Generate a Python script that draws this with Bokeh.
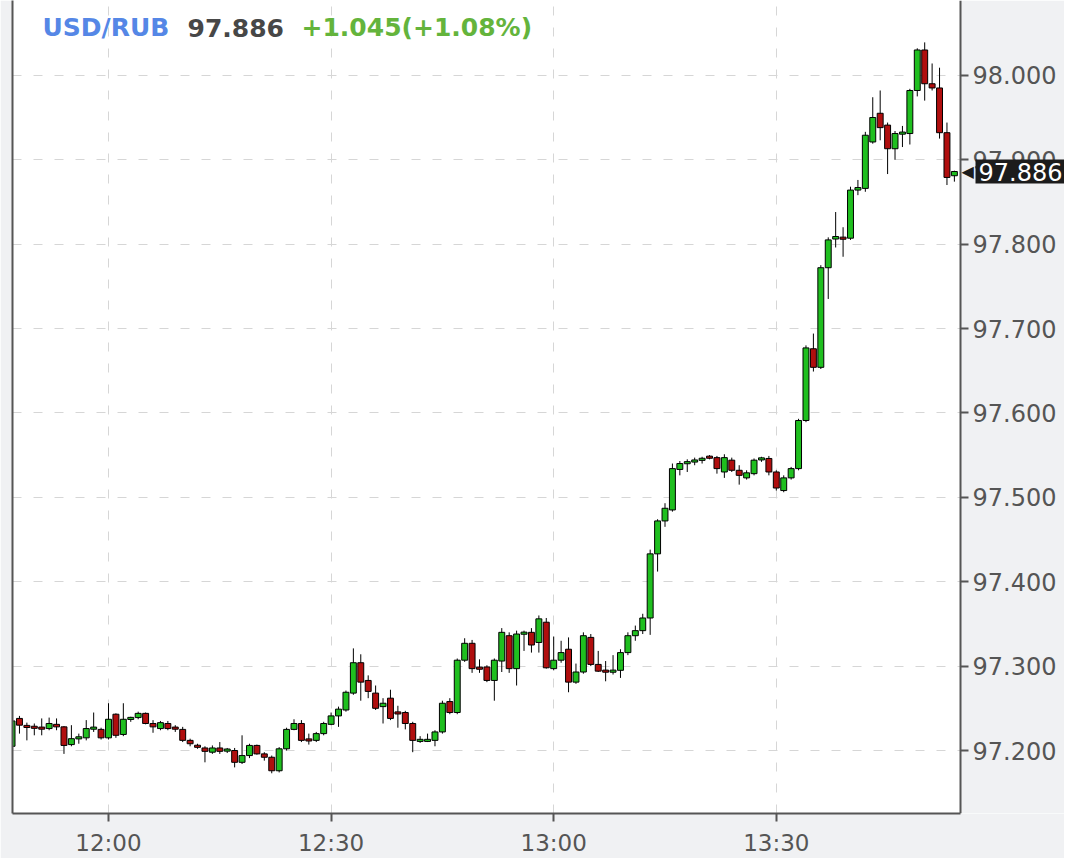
from bokeh.plotting import figure
from bokeh.models import (FixedTicker, Range1d, Label, ColumnDataSource, LinearAxis,
                          Grid, BoxAnnotation)
from bokeh.embed import file_html
from bokeh.resources import INLINE

# ---------------- data (minutes relative to 12:00, 1-minute candles) ----------------
minutes = list(range(-13, 115))
opens = [97.205, 97.238, 97.229, 97.228, 97.227, 97.226, 97.231, 97.228, 97.207, 97.214,
         97.215, 97.226, 97.225, 97.215, 97.243, 97.219, 97.237, 97.239, 97.244, 97.232,
         97.226, 97.232, 97.227, 97.225, 97.212, 97.206, 97.203, 97.198, 97.203, 97.200,
         97.200, 97.186, 97.194, 97.206, 97.196, 97.192, 97.176, 97.202, 97.225, 97.232,
         97.213, 97.212, 97.220, 97.231, 97.241, 97.248, 97.268, 97.304, 97.283, 97.268,
         97.252, 97.262, 97.245, 97.245, 97.232, 97.212, 97.212, 97.212, 97.222, 97.258,
         97.245, 97.307, 97.327, 97.298, 97.299, 97.283, 97.306, 97.336, 97.297, 97.338,
         97.340, 97.328, 97.352, 97.297, 97.307, 97.320, 97.281, 97.293, 97.334, 97.302,
         97.295, 97.293, 97.295, 97.316, 97.336, 97.342, 97.357, 97.433, 97.472, 97.485,
         97.533, 97.540, 97.542, 97.544, 97.548, 97.547, 97.530, 97.544, 97.532, 97.523,
         97.528, 97.545, 97.546, 97.530, 97.508, 97.523, 97.534, 97.591, 97.676, 97.654,
         97.772, 97.806, 97.808, 97.807, 97.864, 97.866, 97.921, 97.955, 97.941, 97.913,
         97.931, 97.931, 97.982, 98.030, 97.990, 97.985, 97.932, 97.881]
highs = [97.238, 97.241, 97.233, 97.232, 97.238, 97.239, 97.238, 97.229, 97.230, 97.220,
         97.236, 97.245, 97.227, 97.256, 97.244, 97.256, 97.240, 97.246, 97.245, 97.236,
         97.235, 97.235, 97.230, 97.228, 97.214, 97.208, 97.205, 97.206, 97.210, 97.203,
         97.203, 97.218, 97.208, 97.207, 97.198, 97.194, 97.204, 97.227, 97.237, 97.236,
         97.220, 97.222, 97.234, 97.245, 97.252, 97.271, 97.321, 97.314, 97.289, 97.277,
         97.262, 97.272, 97.253, 97.247, 97.234, 97.217, 97.220, 97.224, 97.259, 97.262,
         97.309, 97.333, 97.331, 97.308, 97.301, 97.309, 97.345, 97.340, 97.342, 97.342,
         97.345, 97.360, 97.357, 97.335, 97.330, 97.334, 97.303, 97.340, 97.338, 97.318,
         97.306, 97.313, 97.320, 97.340, 97.348, 97.362, 97.438, 97.474, 97.493, 97.540,
         97.543, 97.545, 97.547, 97.548, 97.550, 97.549, 97.551, 97.547, 97.538, 97.532,
         97.546, 97.548, 97.549, 97.532, 97.526, 97.536, 97.593, 97.680, 97.694, 97.775,
         97.808, 97.838, 97.820, 97.868, 97.876, 97.933, 97.974, 97.982, 97.944, 97.934,
         97.940, 97.984, 98.032, 98.039, 98.014, 98.009, 97.944, 97.887]
lows = [97.200, 97.220, 97.212, 97.218, 97.218, 97.224, 97.224, 97.196, 97.205, 97.208,
        97.212, 97.222, 97.213, 97.213, 97.215, 97.217, 97.234, 97.237, 97.231, 97.221,
        97.224, 97.224, 97.222, 97.210, 97.205, 97.202, 97.186, 97.196, 97.196, 97.197,
        97.180, 97.184, 97.191, 97.195, 97.188, 97.173, 97.174, 97.200, 97.224, 97.210,
        97.207, 97.210, 97.218, 97.230, 97.228, 97.246, 97.266, 97.259, 97.262, 97.248,
        97.232, 97.236, 97.227, 97.225, 97.198, 97.209, 97.210, 97.205, 97.220, 97.243,
        97.243, 97.305, 97.292, 97.292, 97.281, 97.259, 97.293, 97.292, 97.277, 97.318,
        97.316, 97.316, 97.297, 97.295, 97.304, 97.269, 97.279, 97.291, 97.300, 97.293,
        97.282, 97.290, 97.286, 97.313, 97.330, 97.338, 97.337, 97.412, 97.465, 97.483,
        97.526, 97.530, 97.538, 97.540, 97.545, 97.528, 97.523, 97.530, 97.515, 97.521,
        97.526, 97.542, 97.526, 97.508, 97.506, 97.521, 97.532, 97.589, 97.649, 97.652,
        97.735, 97.796, 97.785, 97.805, 97.858, 97.862, 97.919, 97.923, 97.883, 97.900,
        97.915, 97.918, 97.975, 97.970, 97.982, 97.925, 97.870, 97.874]
closes = [97.235, 97.230, 97.228, 97.227, 97.226, 97.232, 97.228, 97.206, 97.214, 97.216,
          97.226, 97.227, 97.215, 97.237, 97.218, 97.237, 97.239, 97.244, 97.232, 97.228,
          97.233, 97.226, 97.226, 97.212, 97.208, 97.204, 97.199, 97.203, 97.199, 97.201,
          97.186, 97.194, 97.206, 97.196, 97.192, 97.176, 97.202, 97.225, 97.232, 97.212,
          97.212, 97.220, 97.232, 97.241, 97.249, 97.269, 97.304, 97.281, 97.270, 97.250,
          97.256, 97.238, 97.244, 97.232, 97.212, 97.212, 97.212, 97.222, 97.256, 97.245,
          97.307, 97.327, 97.297, 97.297, 97.283, 97.307, 97.340, 97.297, 97.338, 97.340,
          97.325, 97.356, 97.298, 97.307, 97.316, 97.281, 97.293, 97.336, 97.302, 97.294,
          97.293, 97.295, 97.316, 97.336, 97.342, 97.357, 97.433, 97.472, 97.487, 97.534,
          97.540, 97.542, 97.544, 97.546, 97.547, 97.534, 97.547, 97.532, 97.526, 97.529,
          97.544, 97.546, 97.530, 97.511, 97.523, 97.534, 97.591, 97.677, 97.654, 97.772,
          97.805, 97.809, 97.806, 97.864, 97.867, 97.929, 97.950, 97.938, 97.913, 97.931,
          97.932, 97.982, 98.030, 97.990, 97.985, 97.932, 97.879, 97.886]

x_ticks = [0, 30, 60, 90]
x_tick_labels = ["12:00", "12:30", "13:00", "13:30"]
y_ticks = [97.2, 97.3, 97.4, 97.5, 97.6, 97.7, 97.8, 97.9, 98.0]
y_tick_labels = ["97.200", "97.300", "97.400", "97.500", "97.600", "97.700", "97.800", "97.900", "98.000"]

symbol = "USD/RUB"
last_price = "97.886"
change_text = "+1.045(+1.08%)"
last_value = 97.886

# ---------------- layout helpers (pixel geometry of the page) ----------------
PX_PER_MIN = 7.42
X0_PX = 108.0      # page x of 12:00
FRAME_L, FRAME_R, PLOT_R, FRAME_T, FRAME_B = 12, 1064, 960, 0, 813


def px_to_min(px):
    return (px - X0_PX) / PX_PER_MIN


def py_to_price(py):
    return 97.2 + (750.0 - py) / 844.0


GREEN = "#1fbf1f"
RED = "#b00e0e"
AXIS = "#555555"
BG = "#f0f1f3"
FONT = "DejaVu Sans"
GRID = "#d6d6d6"

tops, bottoms, colors = [], [], []
for o, c in zip(opens, closes):
    t, b = max(o, c), min(o, c)
    if t - b < 0.0025:
        mid = (t + b) / 2
        t, b = mid + 0.00125, mid - 0.00125
    tops.append(t)
    bottoms.append(b)
    colors.append(GREEN if c >= o else RED)

src = ColumnDataSource(dict(t=minutes, o=opens, h=highs, l=lows, c=closes,
                            top=tops, bottom=bottoms, color=colors))

p = figure(frame_width=FRAME_R - FRAME_L, frame_height=FRAME_B - FRAME_T,
           x_range=Range1d(px_to_min(FRAME_L), px_to_min(FRAME_R)),
           y_range=Range1d(py_to_price(FRAME_B), py_to_price(FRAME_T)),
           output_backend="svg", toolbar_location=None,
           y_axis_location=None,
           min_border_left=FRAME_L, min_border_right=0, min_border_top=0, min_border_bottom=38,
           background_fill_color="white", border_fill_color=BG,
           outline_line_color=None)

# grey strip to the right of the price axis (drawn over the grid, under the axis)
p.add_layout(BoxAnnotation(left=px_to_min(PLOT_R), fill_color=BG, fill_alpha=1.0,
                           line_color=None, level="glyph"))

# grids
ygrids = list(p.ygrid)
if not ygrids:
    g = Grid(dimension=1)
    p.add_layout(g)
    ygrids = [g]
for g in ygrids:
    g.ticker = FixedTicker(ticks=y_ticks)
for g in list(p.xgrid):
    g.ticker = FixedTicker(ticks=x_ticks)
for g in list(p.xgrid) + ygrids:
    g.grid_line_color = GRID
    g.grid_line_dash = "9 12"
    g.grid_line_width = 1

# bottom axis
xax = p.xaxis[0]
xax.ticker = FixedTicker(ticks=x_ticks)
xax.major_label_overrides = dict(zip(x_ticks, x_tick_labels))
xax.bounds = (px_to_min(FRAME_L), px_to_min(PLOT_R))
xax.major_label_standoff = 8
xax.major_label_text_font_size = "23px"

# right price axis, fixed at the chart's right edge
yax = LinearAxis(ticker=FixedTicker(ticks=y_ticks), fixed_location=px_to_min(PLOT_R))
yax.major_label_overrides = dict(zip(y_ticks, y_tick_labels))
yax.major_label_standoff = 4
yax.major_label_text_font_size = "24px"
p.add_layout(yax, "right")

for ax in (xax, yax):
    ax.axis_line_color = AXIS
    ax.axis_line_width = 2
    ax.major_tick_line_color = AXIS
    ax.major_tick_line_width = 2
    ax.major_tick_in = 0
    ax.major_tick_out = 8
    ax.minor_tick_line_color = None
    ax.major_label_text_font = FONT
    ax.major_label_text_color = AXIS

# left border line as an empty axis
left = LinearAxis(ticker=FixedTicker(ticks=[]), axis_line_color=AXIS, axis_line_width=2,
                  major_tick_line_color=None, minor_tick_line_color=None,
                  major_label_text_font_size="0px", major_label_standoff=0,
                  major_tick_out=0, major_tick_in=0)
p.add_layout(left, "left")

# candles
p.segment(x0="t", y0="h", x1="t", y1="l", source=src, line_color="black", line_width=1)
p.vbar(x="t", width=0.8, top="top", bottom="bottom", source=src,
       fill_color="color", line_color="black", line_width=1)

# title pieces
title_y = py_to_price(27)
for txt, px, col in ((symbol, 42, "#5587e6"), (last_price, 187, "#474747"), (change_text, 301, "#64b43c")):
    p.add_layout(Label(x=px_to_min(px), y=title_y, text=txt, text_font=FONT,
                       text_font_size="25px", text_font_style="bold", text_color=col,
                       text_baseline="middle", text_align="left"))

# last price marker
arrow = Label(x=px_to_min(961), y=last_value, text="\u25c0", text_font=FONT,
              text_font_size="16px", text_color="#1c1c1c", text_baseline="middle", text_align="left")
p.add_layout(arrow)
marker = Label(x=px_to_min(975), y=last_value, text=last_price, text_font=FONT,
               text_font_size="24px", text_color="white", background_fill_color="#1c1c1c",
               text_baseline="middle", text_align="left")
try:
    marker.padding = 3
except Exception:
    pass
p.add_layout(marker)

open("out.html", "w").write(file_html(p, INLINE))
